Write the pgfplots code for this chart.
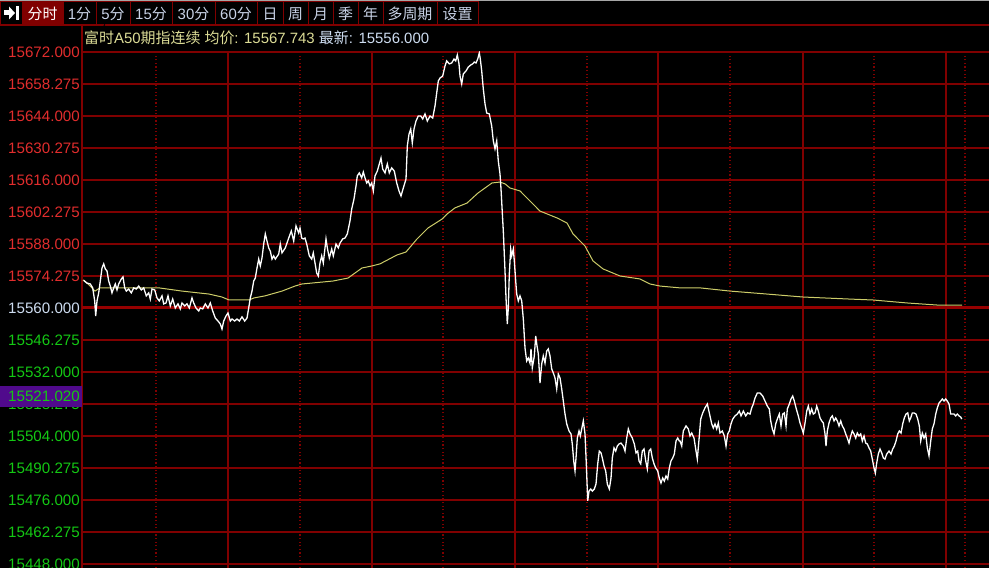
\documentclass[border=0pt]{standalone}
\usepackage{pgfplots}
\pgfplotsset{compat=1.18}
\usepackage{fontspec}
\setmainfont{Liberation Sans}
\newfontfamily\cjk{Noto Sans CJK SC}

\definecolor{gridred}{RGB}{128,0,0}
\definecolor{thickred}{RGB}{150,0,0}
\definecolor{lblred}{RGB}{225,45,45}
\definecolor{lblgreen}{RGB}{20,200,20}
\definecolor{lblwhite}{RGB}{205,220,240}
\definecolor{avgyellow}{RGB}{205,205,105}
\definecolor{titleyellow}{RGB}{220,220,150}
\definecolor{btnred}{RGB}{128,0,0}
\definecolor{btntext}{RGB}{200,210,230}
\definecolor{purplebox}{RGB}{80,10,140}

\newcommand{\R}[1]{\textcolor{lblred}{#1}}
\newcommand{\G}[1]{\textcolor{lblgreen}{#1}}

\begin{document}
\begin{tikzpicture}[x=1bp,y=1bp]
\fill[black] (0,0) rectangle (989,568);

% toolbar
\draw[gray!70, line width=1bp] (0,567.5) -- (989,567.5);
\fill[btnred] (22,543) rectangle (63,566);
\foreach \a/\b in {0/22,22/63,63/96,96/130,130/172,172/215,215/257,257/283,283/308,308/333,333/358,358/383,383/437,437/478}
  \draw[gridred, line width=1bp] (\a,543) rectangle (\b,566);
\draw[gridred, line width=1.2bp] (0,543) -- (989,543);
\fill[white] (4,552.5) rectangle (9.5,557.5);
\fill[white] (9,548.5) -- (15,555) -- (9,561.5) -- cycle;
\fill[white] (16,548) rectangle (18.5,562);
\begin{scope}[every node/.style={font=\fontsize{15}{16}\selectfont, text=btntext, inner sep=0pt}]
\node[text=white] at (42.5,554) {\cjk 分时};
\node at (79.5,554) {1{\cjk 分}};
\node at (113,554) {5{\cjk 分}};
\node at (151,554) {15{\cjk 分}};
\node at (193.5,554) {30{\cjk 分}};
\node at (236,554) {60{\cjk 分}};
\node at (270,554) {\cjk 日};
\node at (295.5,554) {\cjk 周};
\node at (320.5,554) {\cjk 月};
\node at (345.5,554) {\cjk 季};
\node at (370.5,554) {\cjk 年};
\node at (410,554) {\cjk 多周期};
\node at (457.5,554) {\cjk 设置};
\end{scope}

\draw[gridred, line width=1.2bp] (82,516) -- (82,543);

\begin{axis}[
    at={(82,0)}, anchor=south west,
    scale only axis, width=907bp, height=516bp,
    xmin=82, xmax=989, ymin=15446.25, ymax=15672,
    axis line style={draw=none},
    tick style={draw=none},
    xtick={82,228,372,515,658,803,946},
    minor xtick={156,300,443,587,730,874,965},
    xticklabel={},
    ytick={15448,15462,...,15672},
    yticklabels={\G{15448.000},\G{15462.275},\G{15476.000},\G{15490.275},\G{15504.000},\G{15518.275},\G{15532.000},\G{15546.275},\textcolor{lblwhite}{15560.000},\R{15574.275},\R{15588.000},\R{15602.275},\R{15616.000},\R{15630.275},\R{15644.000},\R{15658.275},\R{15672.000}},
    yticklabel style={anchor=east, inner sep=0pt, xshift=-2bp, font=\fontsize{15.2}{17}\selectfont},
    grid=both,
    major grid style={gridred, line width=1.2bp},
    minor grid style={gridred, line width=1.2bp, dash pattern=on 1.2bp off 2.4bp},
    extra y ticks={15560}, extra y tick labels={},
    extra y tick style={grid=major, major grid style={thickred, line width=3bp}},
]
% average price
\addplot[avgyellow, line width=1bp] coordinates {
(83,15572.3) (88,15570.5) (95,15567.4) (100,15568.8) (159,15568.8) (182,15567.4)
(209,15566.1) (222,15564.8) (229,15563.5) (249,15563.5) (254,15564.4) (265,15565.3)
(282,15567.4) (295,15569.6) (302,15570.5) (333,15571.8) (348,15573.1) (362,15577.5)
(372,15578.4) (380,15579.3) (397,15583.2) (406,15584.5) (417,15590.2) (428,15595.0)
(442,15598.9) (447,15601.1) (455,15603.8) (467,15605.9) (478,15610.3) (492,15614.7)
(500,15615.1) (505,15614.3) (510,15612.5) (520,15611.2) (530,15606.8) (540,15602.4)
(557,15599.4) (567,15597.2) (573,15592.4) (585,15587.1) (593,15580.6) (603,15577.1)
(620,15574.0) (640,15572.7) (650,15570.5) (660,15569.6) (680,15568.8) (700,15568.8)
(730,15567.4) (767,15566.1) (803,15564.8) (850,15563.9) (873,15563.5) (907,15562.2)
(937,15561.3) (962,15561.3)
};
% last price
\addplot[white, line width=1.3bp] coordinates {
(83.7,15572.1) (87,15570.9) (90.3,15570.5) (92.7,15568.8) (94.7,15563.1) (95.7,15556.5)
(97,15563.1) (98.7,15566.6) (100.3,15571.8) (102,15577.5) (103.7,15579.3) (105.3,15577.1)
(107,15576.2) (108.7,15571.8) (110.3,15569.6) (112,15566.6) (113.7,15568.8) (115.3,15570.5)
(117,15567.9) (118.7,15570.5) (121.3,15572.7) (123,15573.6) (124.7,15568.8) (126.3,15567.4)
(128.7,15568.3) (131.3,15566.6) (133.7,15568.8) (136.3,15568.3) (138.7,15569.6) (141.3,15567.9)
(143.7,15568.8) (146.3,15565.3) (148.7,15566.6) (150.3,15563.9) (152,15568.3) (154.7,15567.9)
(157,15564.4) (159.3,15563.1) (162,15565.3) (163.7,15561.8) (166,15562.2) (168,15565.3)
(170.3,15560.9) (172.7,15563.9) (175.3,15560.0) (178,15561.8) (180.3,15559.6) (182,15562.2)
(184.7,15560.9) (187,15561.8) (189.3,15560.0) (192,15564.4) (193.7,15562.2) (196,15560.0)
(198.7,15558.7) (200.3,15560.0) (202.7,15559.6) (205.3,15561.8) (208,15560.0) (210.3,15562.2)
(212.7,15558.7) (215.3,15555.6) (218,15554.3) (220.3,15553.0) (222,15550.8) (223.7,15554.3)
(226,15556.5) (228,15557.8) (230.3,15554.3) (232,15555.2) (234.7,15554.3) (237,15555.2)
(239.3,15554.3) (242,15556.1) (244.7,15554.3) (247,15555.6) (248.7,15560.0) (250.3,15564.4)
(252,15567.4) (253.7,15571.8) (255.3,15573.1) (257,15577.5) (258.7,15581.4) (260.3,15578.4)
(262,15581.9) (263.7,15588.0) (265.3,15592.4) (267,15589.3) (268.7,15586.3) (270.3,15584.9)
(272,15581.4) (273.7,15582.8) (275.3,15581.4) (278.7,15583.6) (280.3,15588.0) (282,15584.1)
(285.3,15586.3) (288.7,15590.6) (291.3,15593.7) (293.7,15589.3) (296,15595.9) (298.7,15592.8)
(300,15595.0) (301.7,15590.6) (303.3,15590.2) (305,15590.6) (306.7,15588.0) (309.3,15582.8)
(311.7,15581.4) (313.3,15584.1) (315,15579.7) (316.7,15575.3) (318.3,15574.0) (320,15579.7)
(321.7,15582.8) (323.3,15579.7) (326,15590.2) (327.3,15586.3) (329.3,15581.9) (331.7,15585.8)
(333.3,15582.8) (336,15588.0) (338.3,15586.3) (340,15588.4) (342.7,15590.2) (345,15590.6)
(347.3,15592.4) (350,15598.1) (351.7,15603.3) (354,15607.7) (356,15613.4) (357.3,15617.8)
(359.3,15619.1) (361.7,15616.9) (363.3,15619.5) (365,15616.9) (366.7,15614.7) (368.3,15615.6)
(370,15613.4) (371.7,15614.7) (373.3,15611.2) (375,15617.8) (377.3,15619.9) (379.3,15623.0)
(381,15625.6) (382.7,15620.8) (385,15619.1) (387.3,15623.0) (389.3,15619.1) (391.7,15621.3)
(394.3,15619.9) (396.7,15614.7) (399,15611.2) (401,15609.0) (403.3,15612.5) (406,15616.4)
(407.3,15630.9) (409,15636.1) (410.7,15638.3) (412.3,15632.2) (414,15638.3) (416,15641.8)
(418.3,15644.0) (420.7,15644.0) (422.7,15642.7) (425,15644.9) (427.3,15641.8) (430,15644.0)
(432.7,15643.1) (435,15648.4) (436.7,15654.1) (438.3,15659.3) (440,15660.6) (442.7,15661.5)
(445,15665.9) (446.7,15668.1) (449.3,15666.8) (451.7,15667.2) (454,15668.9) (455.7,15668.1)
(457.3,15670.7) (459,15666.8) (460,15661.5) (461.7,15658.0) (463.3,15662.4) (466,15663.7)
(468.3,15665.4) (470.7,15666.3) (472.7,15666.8) (474.3,15667.6) (476,15667.2) (477.7,15668.9)
(479.3,15671.6) (480.3,15668.9) (481.7,15663.7) (483.3,15655.8) (485,15649.3) (486.7,15645.3)
(489.3,15644.9) (491.7,15639.6) (493.3,15633.1) (495,15629.6) (496.7,15633.1) (498.3,15624.3)
(500,15618.6) (501,15612.1) (502.3,15601.6) (503.3,15593.7) (505,15576.2) (506,15564.4)
(507.3,15553.0) (508.3,15560.0) (509.3,15574.9) (510.7,15585.8) (511.7,15582.8) (513.3,15585.8)
(514.3,15580.6) (515.7,15571.8) (516.7,15566.1) (518.3,15563.1) (520,15565.3) (521.7,15563.1)
(523.3,15555.2) (525,15542.5) (526.7,15536.8) (528.3,15538.1) (530,15535.9) (531,15542.1)
(532.3,15533.8) (534.3,15539.0) (535.7,15547.8) (537,15543.4) (538.3,15539.9) (540,15527.2)
(541.7,15535.5) (543.3,15539.0) (545,15535.9) (546.7,15541.2) (548.3,15542.1) (550,15539.0)
(551.7,15533.3) (553.3,15531.6) (555,15529.4) (556.7,15524.6) (558.3,15531.1) (560,15529.4)
(561.7,15524.6) (563.3,15519.3) (565,15513.6) (566.7,15509.3) (569,15506.2) (571,15504.9)
(572.3,15500.5) (573.7,15493.1) (575,15488.7) (576,15494.4) (577.3,15503.1) (579,15506.2)
(580.3,15504.0) (581.7,15507.1) (583.3,15510.6) (585,15504.9) (586.3,15491.8) (587.7,15475.6)
(589,15479.9) (590.7,15480.8) (592.3,15479.9) (594.3,15480.8) (596,15483.0) (597.7,15491.8)
(599.3,15497.4) (601,15496.6) (602.3,15494.4) (604,15490.9) (605.7,15488.7) (607.3,15483.0)
(609.3,15480.8) (611,15485.6) (612.3,15494.4) (614,15498.8) (615.7,15497.4) (617.3,15499.6)
(619,15500.5) (621,15500.9) (623.3,15499.6) (625,15497.4) (626.7,15503.1) (628.3,15507.1)
(630,15504.9) (632.3,15503.1) (634.3,15500.5) (636,15496.6) (637.7,15497.4) (639,15493.1)
(640.7,15491.8) (642.3,15497.4) (644,15498.3) (645.7,15493.1) (647.3,15489.6) (649,15497.4)
(650.7,15498.3) (652.3,15494.4) (654,15491.8) (655.7,15490.0) (657.7,15488.7) (659.3,15485.6)
(661,15483.4) (662.7,15485.6) (664.3,15484.3) (666,15486.5) (667.7,15485.2) (669.3,15490.0)
(671,15493.1) (672.7,15494.4) (674.3,15496.1) (676,15501.8) (677.7,15503.1) (679.3,15501.8)
(680,15501.8) (681.7,15499.6) (683.3,15506.2) (686,15508.4) (688.3,15507.1) (690,15504.0)
(691.7,15505.3) (694,15503.1) (696,15497.4) (697.3,15493.9) (699.3,15504.0) (700.7,15511.4)
(702.7,15514.1) (705,15516.3) (707.3,15518.0) (709.3,15514.1) (711.7,15509.3) (713.3,15507.5)
(715,15509.3) (716.7,15507.1) (718.3,15509.7) (720,15505.3) (722.3,15506.2) (724.3,15504.0)
(726,15499.6) (727.7,15504.9) (729.3,15506.2) (731,15509.3) (732.7,15511.4) (735,15512.8)
(737.3,15513.6) (739.3,15514.9) (741,15512.8) (743.3,15514.9) (745.7,15512.8) (747.7,15514.1)
(750,15513.6) (751.7,15516.3) (753.3,15518.0) (755,15520.6) (757.3,15522.8) (760,15522.8)
(762.7,15521.5) (765,15519.3) (767.3,15517.1) (769.3,15515.8) (770.7,15510.6) (772.3,15507.1)
(774,15504.9) (775.7,15509.3) (777.3,15511.4) (779.3,15513.6) (781,15508.4) (782.7,15513.6)
(784.3,15514.1) (786,15508.4) (787.3,15515.8) (789.3,15518.0) (791,15520.2) (792.7,15521.5)
(794.3,15519.3) (796,15516.3) (798.3,15512.8) (800,15509.7) (801.7,15507.5) (803.3,15505.3)
(805,15509.7) (806.7,15514.9) (808.3,15517.1) (810,15513.6) (811.7,15515.8) (813.3,15513.6)
(815,15514.1) (816.7,15517.1) (818.3,15514.9) (820,15511.9) (821.7,15510.6) (823.3,15509.7)
(825,15504.9) (826,15499.6) (827.3,15506.2) (829,15509.7) (830.7,15511.9) (832.3,15512.8)
(834,15510.6) (835.7,15511.9) (837.3,15510.6) (839,15508.4) (840.7,15510.6) (842.3,15508.4)
(844,15507.1) (845.7,15504.9) (847.3,15503.1) (849,15500.9) (850.7,15504.0) (852.3,15506.2)
(854,15504.9) (855.7,15503.1) (857.3,15505.3) (859,15504.0) (860.7,15504.9) (862.3,15501.8)
(864,15504.0) (865.7,15500.9) (867.3,15500.5) (869,15498.8) (870.7,15497.4) (872.3,15493.9)
(874,15490.0) (875.3,15487.8) (876.7,15492.2) (878.3,15496.1) (880,15498.3) (881.7,15496.6)
(883.3,15494.4) (885,15493.9) (886.7,15496.1) (889,15497.4) (891,15496.1) (892.7,15498.3)
(894.3,15499.6) (896,15501.8) (897.7,15504.9) (899.3,15506.2) (901,15505.3) (902.7,15509.3)
(904.3,15511.9) (906,15513.6) (907.7,15514.1) (909.3,15510.6) (910.7,15511.9) (912.3,15514.1)
(914,15514.1) (916,15513.6) (917.7,15511.4) (919.3,15508.4) (920.7,15501.8) (922.3,15505.3)
(924,15503.1) (925.7,15504.9) (927.3,15498.8) (929,15495.3) (930.7,15501.8) (932.3,15507.1)
(934,15509.3) (935.7,15513.6) (937.3,15516.3) (939,15518.4) (940.7,15519.3) (942.3,15520.2)
(944,15519.3) (945.7,15520.2) (947.3,15519.3) (949,15518.0) (950.7,15513.6) (952.3,15513.6)
(954,15513.6) (955.7,15512.8) (957.3,15513.6) (959,15512.8) (960.7,15512.3) (961.7,15511.4)
};
\end{axis}

% highlighted price label
\fill[purplebox] (0,161) rectangle (82,182);
\node[anchor=east, inner sep=0pt, font=\fontsize{15.2}{17}\selectfont, text=lblgreen] at (80,171.5) {15521.020};

% title line
\node[anchor=west, inner sep=0pt, font=\fontsize{15}{17}\selectfont] at (84,530)
  {\textcolor{titleyellow}{{\cjk 富时}A50{\cjk 期指连续} {\cjk 均价}: 15567.743} \textcolor{lblwhite}{{\cjk 最新}: 15556.000}};

\pgfresetboundingbox
\path (0,0) rectangle (989,568);
\end{tikzpicture}
\end{document}
